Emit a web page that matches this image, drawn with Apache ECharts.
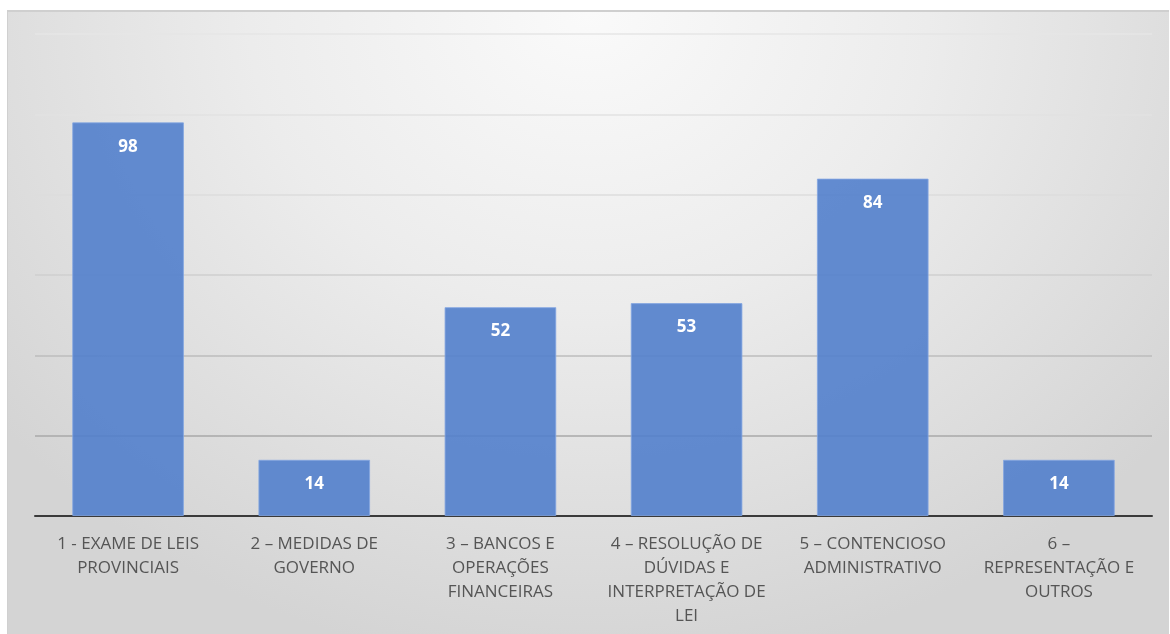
<!DOCTYPE html>
<html>
<head>
<meta charset="utf-8">
<script src="https://cdn.jsdelivr.net/npm/echarts@6/dist/echarts.min.js"></script>
<style>
  html, body { margin: 0; padding: 0; background: #ffffff; }
  #bg { position: absolute; left: 7px; top: 10px; width: 1162px; height: 630px;
        border-top: 2px solid #cfcfcf; border-left: 1px solid #d0d0d0; box-sizing: border-box;
        background: radial-gradient(ellipse 65% 105% at 50% 0%, #fafafa 0%, #ececec 45%, #d4d4d4 100%); }
  #chart { position: absolute; left: 0; top: 0; width: 1170px; height: 634px; }
</style>
</head>
<body>
<div id="bg"></div>
<div id="chart"></div>
<script>
const categories = [
  "1 - EXAME DE LEIS\nPROVINCIAIS",
  "2 – MEDIDAS DE\nGOVERNO",
  "3 – BANCOS E\nOPERAÇÕES\nFINANCEIRAS",
  "4 – RESOLUÇÃO DE\nDÚVIDAS E\nINTERPRETAÇÃO DE\nLEI",
  "5 – CONTENCIOSO\nADMINISTRATIVO",
  "6 –\nREPRESENTAÇÃO E\nOUTROS"
];
const values = [98, 14, 52, 53, 84, 14];

const chart = echarts.init(document.getElementById('chart'), null, { renderer: 'canvas' });
chart.setOption({
  backgroundColor: 'transparent',
  animation: false,
  grid: { left: 35, right: 18, top: 34, bottom: 118, containLabel: false },
  xAxis: {
    type: 'category',
    data: categories,
    axisLine: { show: true, lineStyle: { color: '#3a3a3a', width: 2 } },
    axisTick: { show: false },
    axisLabel: {
      interval: 0,
      color: '#555555',
      fontFamily: 'Open Sans',
      fontSize: 17,
      lineHeight: 24,
      margin: 16
    }
  },
  yAxis: {
    type: 'value',
    min: 0,
    max: 120,
    interval: 20,
    axisLine: { show: false },
    axisTick: { show: false },
    axisLabel: { show: false },
    splitLine: {
      show: true,
      lineStyle: { width: 1.5, color: ['#a0a0a0', '#a8a8a8', '#bdbdbd', '#cfcfcf', '#dcdcdc', '#e2e2e2', '#e6e6e6'] }
    }
  },
  series: [{
    type: 'bar',
    data: values,
    barCategoryGap: '40%',
    itemStyle: { color: 'rgba(82,128,204,0.9)', borderColor: 'rgba(130,165,225,0.8)', borderWidth: 1 },
    label: {
      show: true,
      position: 'insideTop',
      distance: 16,
      color: '#ffffff',
      fontFamily: 'Open Sans',
      fontWeight: 'bold',
      fontSize: 17
    }
  }]
});
</script>
</body>
</html>
